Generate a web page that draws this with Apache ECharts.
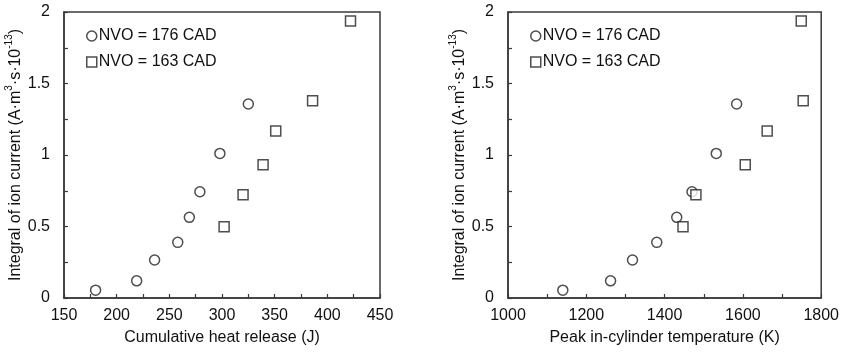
<!DOCTYPE html>
<html><head><meta charset="utf-8">
<script src="https://cdn.jsdelivr.net/npm/echarts@6/dist/echarts.min.js"></script>
<style>html,body{margin:0;padding:0;background:#fff}#c{width:842px;height:352px}</style>
</head><body><div id="c"></div>
<script>
// Left panel: cumulative heat release (J)
const heatNVO176 = [180, 219, 236, 258, 269, 279, 298, 325];
const heatNVO163 = [302, 320, 339, 351, 386, 422];
// Right panel: peak in-cylinder temperature (K)
const tempNVO176 = [1140, 1262, 1318, 1380, 1431, 1470, 1532, 1584];
const tempNVO163 = [1447, 1480, 1606, 1662, 1754, 1749];
// Integral of ion current (A·m³·s·10⁻¹³)
const ionNVO176 = [0.055, 0.12, 0.266, 0.389, 0.564, 0.743, 1.011, 1.357];
const ionNVO163 = [0.499, 0.722, 0.932, 1.168, 1.38, 1.937];
const seriesNames = ['NVO = 176 CAD', 'NVO = 163 CAD'];
const yTickLabels = ['0', '0.5', '1', '1.5', '2'];
const xTitleLeft = 'Cumulative heat release (J)';
const xTitleRight = 'Peak in-cylinder temperature (K)';

const zip = (a, b) => a.map((v, i) => [v, b[i]]);
const FONT = 'Liberation Sans, Arial, sans-serif';
const TXT = '#111';
const LINE = '#3a3a3a';

function yAxis(gridIndex) {
  return {
    type: 'value', gridIndex, min: 0, max: 2, interval: 0.25,
    axisLine: { show: true, lineStyle: { color: LINE, width: 1.5 } },
    axisTick: { show: true, inside: true, length: 4, lineStyle: { color: LINE, width: 1.2 } },
    splitLine: { show: false },
    axisLabel: {
      margin: 14, fontSize: 16, color: TXT, fontFamily: FONT,
      formatter: v => { const i = Math.round(v / 0.5); return Math.abs(v - i * 0.5) < 1e-9 ? yTickLabels[i] : ''; }
    },
    name: '{n|Integral of ion current (A·m}{s|3}{n|·s·10}{s|-13}{n|)}',
    nameLocation: 'middle', nameGap: 38, nameRotate: 90,
    nameTextStyle: {
      rich: {
        n: { fontSize: 16, color: TXT, fontFamily: FONT, lineHeight: 20, verticalAlign: 'bottom' },
        s: { fontSize: 10, color: TXT, fontFamily: FONT, lineHeight: 20, verticalAlign: 'top' }
      }
    }
  };
}
function xAxis(gridIndex, min, max, minor, major, title) {
  return {
    type: 'value', gridIndex, min, max, interval: minor,
    axisLine: { show: true, lineStyle: { color: LINE, width: 1.5 } },
    axisTick: { show: true, inside: true, length: 4, lineStyle: { color: LINE, width: 1.2 } },
    splitLine: { show: false },
    axisLabel: {
      margin: 10, fontSize: 16, color: TXT, fontFamily: FONT,
      formatter: v => (Math.abs((v - min) % major) < 1e-9 ? String(v) : '')
    },
    name: title, nameLocation: 'middle', nameGap: 32,
    nameTextStyle: { fontSize: 16, color: TXT, fontFamily: FONT }
  };
}
const markStyle = { color: '#fff', borderColor: '#222', borderWidth: 1.5 };

const option = {
  animation: false,
  backgroundColor: '#fff',
  grid: [
    { left: 64, right: 462, top: 12, bottom: 54, show: true, borderColor: LINE, borderWidth: 1.5, backgroundColor: 'transparent' },
    { left: 508, right: 19, top: 12, bottom: 54, show: true, borderColor: LINE, borderWidth: 1.5, backgroundColor: 'transparent' }
  ],
  xAxis: [xAxis(0, 150, 450, 25, 50, xTitleLeft), xAxis(1, 1000, 1800, 100, 200, xTitleRight)],
  yAxis: [yAxis(0), yAxis(1)],
  legend: [
    { data: [{ name: seriesNames[0], icon: 'circle' }, { name: seriesNames[1], icon: 'rect' }],
      left: 81, top: 23, orient: 'vertical', itemGap: 10, itemWidth: 10, itemHeight: 10,
      textStyle: { fontSize: 16, color: TXT, fontFamily: FONT, padding: [0, 0, 0, -3] },
      itemStyle: markStyle },
    { data: [{ name: seriesNames[0] + ' ', icon: 'circle' }, { name: seriesNames[1] + ' ', icon: 'rect' }],
      left: 525, top: 23, orient: 'vertical', itemGap: 10, itemWidth: 10, itemHeight: 10,
      textStyle: { fontSize: 16, color: TXT, fontFamily: FONT, padding: [0, 0, 0, -3] },
      itemStyle: markStyle }
  ],
  series: [
    { name: seriesNames[0], type: 'scatter', xAxisIndex: 0, yAxisIndex: 0, symbol: 'circle', symbolSize: 10,
      data: zip(heatNVO176, ionNVO176), itemStyle: markStyle },
    { name: seriesNames[1], type: 'scatter', xAxisIndex: 0, yAxisIndex: 0, symbol: 'rect', symbolSize: 10,
      data: zip(heatNVO163, ionNVO163), itemStyle: markStyle },
    { name: seriesNames[0] + ' ', type: 'scatter', xAxisIndex: 1, yAxisIndex: 1, symbol: 'circle', symbolSize: 10,
      data: zip(tempNVO176, ionNVO176), itemStyle: markStyle },
    { name: seriesNames[1] + ' ', type: 'scatter', xAxisIndex: 1, yAxisIndex: 1, symbol: 'rect', symbolSize: 10,
      data: zip(tempNVO163, ionNVO163), itemStyle: markStyle }
  ]
};
echarts.init(document.getElementById('c'), null, { renderer: 'canvas' }).setOption(option);
</script></body></html>
